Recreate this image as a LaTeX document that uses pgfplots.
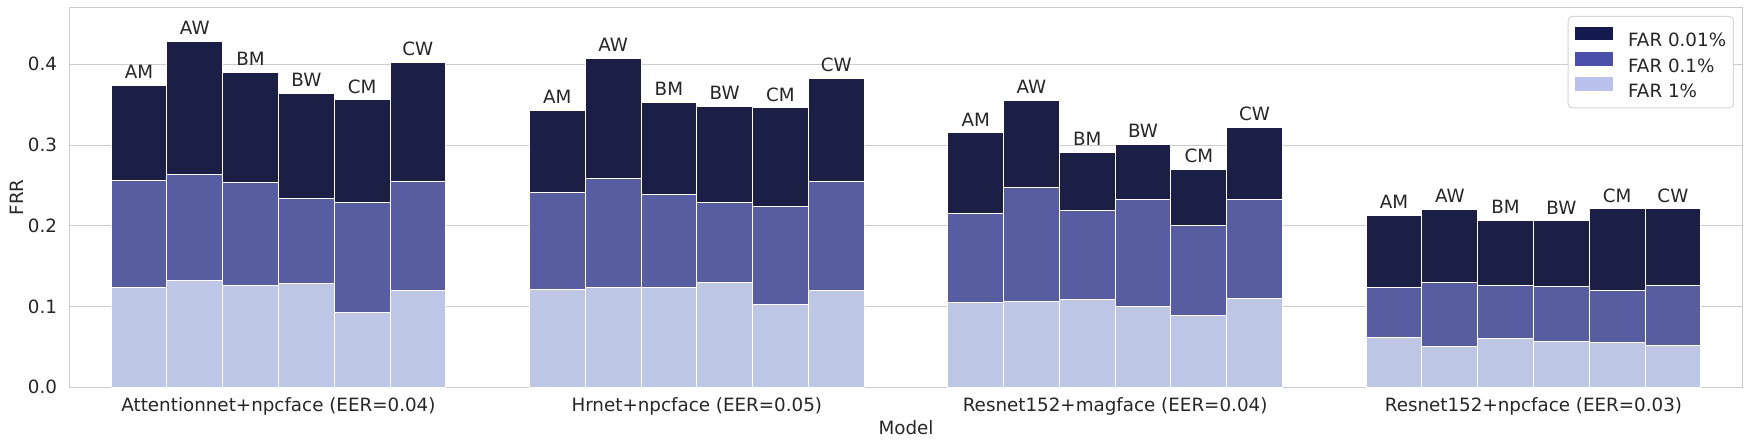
\documentclass[border=0pt]{standalone}
\usepackage{fontspec}
\setmainfont{DejaVu Sans}
\usepackage{pgfplots}
\usepackage{pgfplotstable}
\pgfplotsset{compat=1.18}
\definecolor{cA}{HTML}{1B1F45}
\definecolor{cB}{HTML}{585CA0}
\definecolor{cC}{HTML}{BEC6E5}
\definecolor{lA}{HTML}{141A4D}
\definecolor{lB}{HTML}{4A4FAB}
\definecolor{lC}{HTML}{B9C1EC}
\definecolor{gridc}{HTML}{CCCCCC}
\definecolor{legc}{HTML}{D6D6D6}
\definecolor{txt}{HTML}{262626}
\newcommand{\fs}{\fontsize{18.3}{22}\selectfont}

\pgfplotstableread{
x lab y
-0.3333 AM 0.374
-0.2000 AW 0.428
-0.0667 BM 0.390
0.0667 BW 0.364
0.2000 CM 0.356
0.3333 CW 0.402
0.6667 AM 0.343
0.8000 AW 0.407
0.9333 BM 0.353
1.0667 BW 0.348
1.2000 CM 0.346
1.3333 CW 0.383
1.6667 AM 0.315
1.8000 AW 0.355
1.9333 BM 0.291
2.0667 BW 0.301
2.2000 CM 0.270
2.3333 CW 0.322
2.6667 AM 0.213
2.8000 AW 0.220
2.9333 BM 0.207
3.0667 BW 0.206
3.2000 CM 0.221
3.3333 CW 0.221
}\farA

\pgfplotstableread{
x y
-0.3333 0.256
-0.2000 0.263
-0.0667 0.254
0.0667 0.234
0.2000 0.229
0.3333 0.255
0.6667 0.241
0.8000 0.259
0.9333 0.239
1.0667 0.229
1.2000 0.224
1.3333 0.255
1.6667 0.215
1.8000 0.247
1.9333 0.219
2.0667 0.233
2.2000 0.200
2.3333 0.232
2.6667 0.123
2.8000 0.130
2.9333 0.126
3.0667 0.125
3.2000 0.120
3.3333 0.126
}\farB

\pgfplotstableread{
x y
-0.3333 0.123
-0.2000 0.132
-0.0667 0.126
0.0667 0.128
0.2000 0.093
0.3333 0.120
0.6667 0.121
0.8000 0.123
0.9333 0.124
1.0667 0.130
1.2000 0.103
1.3333 0.120
1.6667 0.105
1.8000 0.106
1.9333 0.109
2.0667 0.100
2.2000 0.089
2.3333 0.110
2.6667 0.062
2.8000 0.051
2.9333 0.061
3.0667 0.057
3.2000 0.056
3.3333 0.052
}\farC

\begin{document}
\begin{tikzpicture}[x=1pt,y=1pt]
\useasboundingbox (-69.3,-58.7) rectangle (1680.7,387.3);
\begin{axis}[
  at={(0,0)}, anchor=south west, scale only axis,
  width=1673.4pt, height=380pt,
  xmin=-0.5, xmax=3.5, ymin=0, ymax=0.4706,
  ybar, bar width=0.13333, bar shift=0pt,
  xtick={0,1,2,3},
  xticklabels={Attentionnet+npcface (EER=0.04),Hrnet+npcface (EER=0.05),Resnet152+magface (EER=0.04),Resnet152+npcface (EER=0.03)},
  ytick={0,0.1,0.2,0.3,0.4},
  major tick length=0pt,
  ymajorgrids, grid style={gridc, line width=1.1pt},
  axis line style={gridc, line width=1.1pt},
  tick label style={font=\fs, text=txt, inner sep=0pt},
  yticklabel style={xshift=-12pt, /pgf/number format/fixed, /pgf/number format/fixed zerofill, /pgf/number format/precision=1, /pgf/number format/assume math mode=true},
  xticklabel style={yshift=-10pt},
  xlabel={Model}, ylabel={FRR},
  xlabel style={at={(axis description cs:0.5,0)}, anchor=base, yshift=-47.7pt, font=\fs, text=txt, inner sep=0pt},
  ylabel style={at={(axis description cs:-0.03143,0.5)}, anchor=center, font=\fs, text=txt, inner sep=0pt},
  legend cell align=left,
  legend style={at={(1,1)}, anchor=north east, xshift=-8.7pt, yshift=-8.7pt,
    draw=legc, line width=1pt, rounded corners=4pt, fill=white,
    inner xsep=7.3pt, inner ysep=10.5pt, row sep=5.3pt, column sep=15pt,
    nodes={inner sep=0pt, text height=13.3pt, text depth=0pt, font=\fs, text=txt}},
]
\addplot[fill=cA, draw=white, line width=1pt,
  nodes near coords, point meta=explicit symbolic,
  nodes near coords style={anchor=base, yshift=6.7pt, inner sep=0pt, font=\fs, text=txt},
  legend image code/.code={\path[fill=lA, draw=none, sharp corners] (0pt,0pt) rectangle (37.7pt,13.3pt);}]
  table[x=x, y=y, meta=lab] {\farA};
\addlegendentry{FAR 0.01\%}
\addplot[fill=cB, draw=white, line width=1pt,
  legend image code/.code={\path[fill=lB, draw=none, sharp corners] (0pt,0pt) rectangle (37.7pt,13.3pt);}]
  table[x=x, y=y] {\farB};
\addlegendentry{FAR 0.1\%}
\addplot[fill=cC, draw=white, line width=1pt,
  legend image code/.code={\path[fill=lC, draw=none, sharp corners] (0pt,0pt) rectangle (37.7pt,13.3pt);}]
  table[x=x, y=y] {\farC};
\addlegendentry{FAR 1\%}
\end{axis}
\end{tikzpicture}
\end{document}
